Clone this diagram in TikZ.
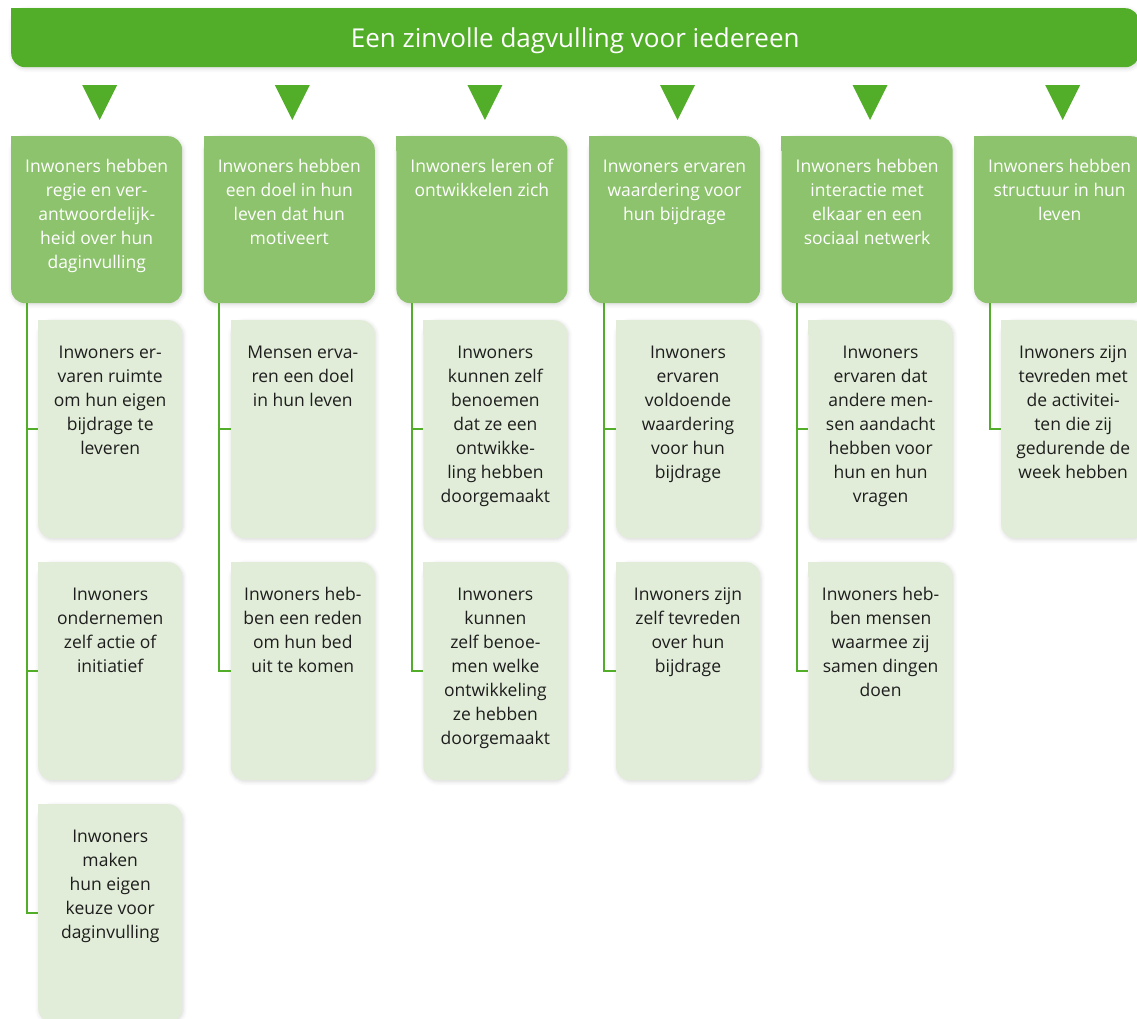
\documentclass[tikz,border=0pt]{standalone}
\usepackage{fontspec}
\setmainfont{Open Sans}
\usetikzlibrary{calc,shadows.blur}

\definecolor{bargreen}{HTML}{52AE28}
\definecolor{headgreen}{HTML}{8DC36D}
\definecolor{childgreen}{HTML}{E1EDD8}
\definecolor{childink}{HTML}{1E1E1E}

\tikzset{
  soft/.style={blur shadow={shadow xshift=1pt, shadow yshift=-1.5pt, shadow blur radius=4pt, shadow opacity=15, shadow blur steps=6}},
  topbar/.style={rectangle, rounded corners=14pt, fill=bargreen, text=white, inner sep=0pt, text depth=0pt,
    minimum width=1128pt, minimum height=59pt, anchor=north west, font=\fontsize{26}{30}\selectfont, soft},
  headbox/.style={rectangle, rounded corners=14pt, fill=headgreen, text=white, inner sep=0pt,
    anchor=north west, font=\fontsize{17.5}{24}\selectfont, soft},
  childbox/.style={rectangle, rounded corners=14pt, fill=childgreen, text=childink, inner sep=0pt,
    anchor=north west, font=\fontsize{17.5}{24}\selectfont, soft},
  link/.style={draw=bargreen, line width=2pt},
  pointer/.style={fill=bargreen}
}

\newcommand{\headtext}[1]{\parbox[c][167pt][t]{171pt}{\centering\vspace*{19pt}\strut #1}}
\newcommand{\childtext}[1]{\parbox[c][218pt][t]{144pt}{\centering\vspace*{21pt}\strut #1}}

\begin{document}
\begin{tikzpicture}[x=1pt, y=-1pt]
    \useasboundingbox (0,0) rectangle (1137,1018);

    % top bar
    \node[topbar] (bar) at (11,8) {Een zinvolle dagvulling voor iedereen};
    \fill[bargreen] (bar.north west) rectangle ++(15,15);

    % headers
    \node[headbox] (h1) at (11,136) {\headtext{Inwoners hebben\\regie en ver-\\antwoordelijk-\\heid over hun\\daginvulling}};
    \node[headbox] (h2) at (203.6,136) {\headtext{Inwoners hebben\\een doel in hun\\leven dat hun\\motiveert}};
    \node[headbox] (h3) at (396.2,136) {\headtext{Inwoners leren of\\ontwikkelen zich}};
    \node[headbox] (h4) at (588.8,136) {\headtext{Inwoners ervaren\\waardering voor\\hun bijdrage}};
    \node[headbox] (h5) at (781.4,136) {\headtext{Inwoners hebben\\interactie met\\elkaar en een\\sociaal netwerk}};
    \node[headbox] (h6) at (974,136) {\headtext{Inwoners hebben\\structuur in hun\\leven}};
    \foreach \n in {h1,h2,h3,h4,h5,h6}
        \fill[headgreen] (\n.north west) rectangle ++(15,15);

    % pointers
    \foreach \n in {h1,h2,h3,h4,h5,h6}
        \fill[pointer] ($(\n.north)+(3,-16)$) -- ++(-17.5,-35) -- ++(35,0) -- cycle;

    % children
    \node[childbox] (c1a) at (38,320) {\childtext{Inwoners er-\\varen ruimte\\om hun eigen\\bijdrage te\\leveren}};
    \node[childbox] (c1b) at (38,562) {\childtext{Inwoners\\ondernemen\\zelf actie of\\initiatief}};
    \node[childbox] (c1c) at (38,804) {\childtext{Inwoners\\maken\\hun eigen\\keuze voor\\daginvulling}};
    \node[childbox] (c2a) at (230.6,320) {\childtext{Mensen erva-\\ren een doel\\in hun leven}};
    \node[childbox] (c2b) at (230.6,562) {\childtext{Inwoners heb-\\ben een reden\\om hun bed\\uit te komen}};
    \node[childbox] (c3a) at (423.2,320) {\childtext{Inwoners\\kunnen zelf\\benoemen\\dat ze een\\ontwikke-\\ling hebben\\doorgemaakt}};
    \node[childbox] (c3b) at (423.2,562) {\childtext{Inwoners\\kunnen\\zelf benoe-\\men welke\\ontwikkeling\\ze hebben\\doorgemaakt}};
    \node[childbox] (c4a) at (615.8,320) {\childtext{Inwoners\\ervaren\\voldoende\\waardering\\voor hun\\bijdrage}};
    \node[childbox] (c4b) at (615.8,562) {\childtext{Inwoners zijn\\zelf tevreden\\over hun\\bijdrage}};
    \node[childbox] (c5a) at (808.4,320) {\childtext{Inwoners\\ervaren dat\\andere men-\\sen aandacht\\hebben voor\\hun en hun\\vragen}};
    \node[childbox] (c5b) at (808.4,562) {\childtext{Inwoners heb-\\ben mensen\\waarmee zij\\samen dingen\\doen}};
    \node[childbox] (c6a) at (1001,320) {\childtext{Inwoners zijn\\tevreden met\\de activitei-\\ten die zij\\gedurende de\\week hebben}};
    \foreach \n in {c1a,c1b,c1c,c2a,c2b,c3a,c3b,c4a,c4b,c5a,c5b,c6a}
        \fill[childgreen] (\n.north west) rectangle ++(15,15);

    % links
    \draw[link] ($(h1.south west)+(15.5,0)$) |- (c1a.west);
    \draw[link] ($(h1.south west)+(15.5,0)$) |- (c1b.west);
    \draw[link] ($(h1.south west)+(15.5,0)$) |- (c1c.west);
    \draw[link] ($(h2.south west)+(15.5,0)$) |- (c2a.west);
    \draw[link] ($(h2.south west)+(15.5,0)$) |- (c2b.west);
    \draw[link] ($(h3.south west)+(15.5,0)$) |- (c3a.west);
    \draw[link] ($(h3.south west)+(15.5,0)$) |- (c3b.west);
    \draw[link] ($(h4.south west)+(15.5,0)$) |- (c4a.west);
    \draw[link] ($(h4.south west)+(15.5,0)$) |- (c4b.west);
    \draw[link] ($(h5.south west)+(15.5,0)$) |- (c5a.west);
    \draw[link] ($(h5.south west)+(15.5,0)$) |- (c5b.west);
    \draw[link] ($(h6.south west)+(15.5,0)$) |- (c6a.west);
\end{tikzpicture}
\end{document}
